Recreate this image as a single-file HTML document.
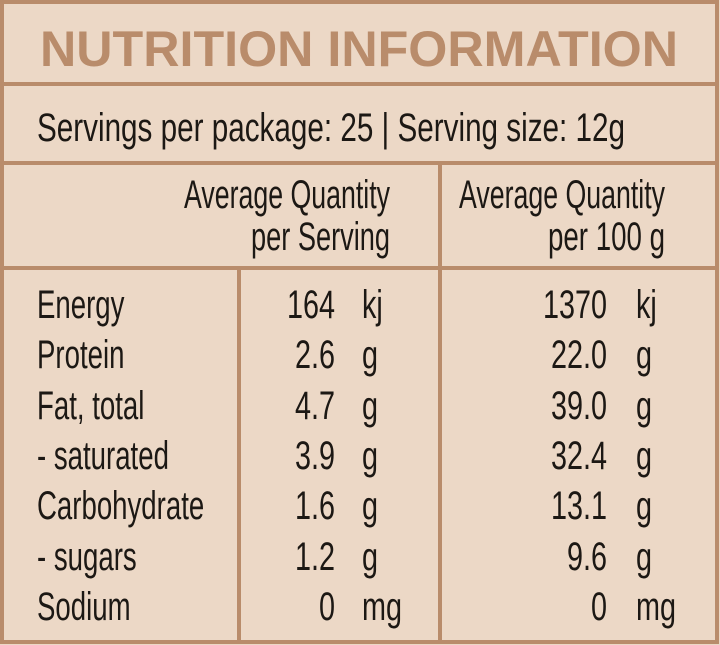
<!DOCTYPE html>
<html><head><meta charset="utf-8"><style>
html,body{margin:0;padding:0;background:#ecd8c6;}
svg{display:block}
text{font-family:"Liberation Sans",sans-serif;fill:#1c1814;font-size:40px;}
</style></head><body>
<svg width="720" height="645" viewBox="0 0 720 645" xmlns="http://www.w3.org/2000/svg">
<rect x="0" y="0" width="720" height="645" fill="#ecd8c6"/>
<g stroke="#b98c6b" stroke-width="4" fill="none">
<rect x="2" y="2" width="715" height="640"/>
<line x1="2" y1="84" x2="717" y2="84"/>
<line x1="2" y1="163" x2="717" y2="163"/>
<line x1="2" y1="268" x2="717" y2="268"/>
<line x1="440" y1="163" x2="440" y2="642"/>
<line x1="239" y1="268" x2="239" y2="642"/>
</g>
<text x="40" y="66" textLength="638" lengthAdjust="spacingAndGlyphs" style="font-size:50px;font-weight:bold;fill:#b98c6b">NUTRITION INFORMATION</text>
<text x="37" y="141" textLength="588" lengthAdjust="spacingAndGlyphs">Servings per package: 25 | Serving size: 12g</text>
<text x="184" y="208" textLength="206" lengthAdjust="spacingAndGlyphs">Average Quantity</text>
<text x="251" y="250" textLength="139" lengthAdjust="spacingAndGlyphs">per Serving</text>
<text x="459" y="208" textLength="206" lengthAdjust="spacingAndGlyphs">Average Quantity</text>
<text x="548" y="250" textLength="117" lengthAdjust="spacingAndGlyphs">per 100 g</text>
<g>
<text transform="translate(37,318) scale(.69,1)">Energy</text>
<text transform="translate(37,368) scale(.69,1)">Protein</text>
<text transform="translate(37,419) scale(.69,1)">Fat, total</text>
<text transform="translate(37,469) scale(.69,1)">- saturated</text>
<text transform="translate(37,519) scale(.69,1)">Carbohydrate</text>
<text transform="translate(37,570) scale(.69,1)">- sugars</text>
<text transform="translate(37,620) scale(.69,1)">Sodium</text>
</g>
<g text-anchor="end">
<text transform="translate(335,318) scale(.72,1)">164</text>
<text transform="translate(335,368) scale(.72,1)">2.6</text>
<text transform="translate(335,419) scale(.72,1)">4.7</text>
<text transform="translate(335,469) scale(.72,1)">3.9</text>
<text transform="translate(335,519) scale(.72,1)">1.6</text>
<text transform="translate(335,570) scale(.72,1)">1.2</text>
<text transform="translate(335,620) scale(.72,1)">0</text>
<text transform="translate(607,318) scale(.72,1)">1370</text>
<text transform="translate(607,368) scale(.72,1)">22.0</text>
<text transform="translate(607,419) scale(.72,1)">39.0</text>
<text transform="translate(607,469) scale(.72,1)">32.4</text>
<text transform="translate(607,519) scale(.72,1)">13.1</text>
<text transform="translate(607,570) scale(.72,1)">9.6</text>
<text transform="translate(607,620) scale(.72,1)">0</text>
</g>
<g>
<text transform="translate(362,318) scale(.72,1)">kj</text>
<text transform="translate(362,368) scale(.72,1)">g</text>
<text transform="translate(362,419) scale(.72,1)">g</text>
<text transform="translate(362,469) scale(.72,1)">g</text>
<text transform="translate(362,519) scale(.72,1)">g</text>
<text transform="translate(362,570) scale(.72,1)">g</text>
<text transform="translate(362,620) scale(.72,1)">mg</text>
<text transform="translate(636,318) scale(.72,1)">kj</text>
<text transform="translate(636,368) scale(.72,1)">g</text>
<text transform="translate(636,419) scale(.72,1)">g</text>
<text transform="translate(636,469) scale(.72,1)">g</text>
<text transform="translate(636,519) scale(.72,1)">g</text>
<text transform="translate(636,570) scale(.72,1)">g</text>
<text transform="translate(636,620) scale(.72,1)">mg</text>
</g>
</svg>
</body></html>
